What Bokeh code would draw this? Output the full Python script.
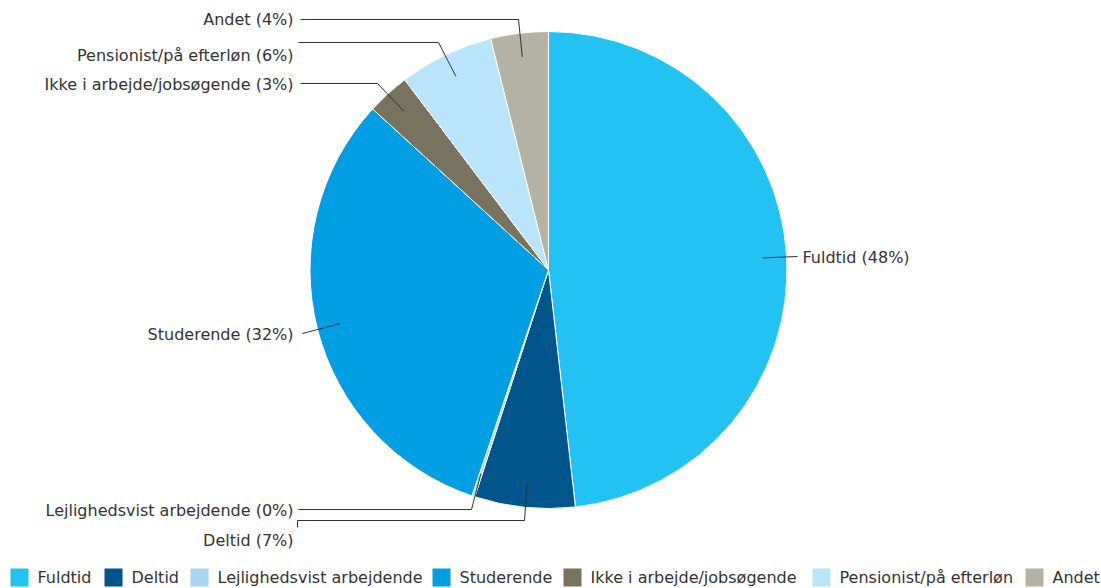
import math
from bokeh.plotting import figure
from bokeh.models import Range1d, ColumnDataSource
from bokeh.core.properties import value
from bokeh.embed import file_html
from bokeh.resources import INLINE

# ---- data ----
categories = ["Fuldtid", "Deltid", "Lejlighedsvist arbejdende", "Studerende",
              "Ikke i arbejde/jobsøgende", "Pensionist/på efterløn", "Andet"]
shares = [48.2, 6.8, 0.2, 31.6, 2.9, 6.4, 3.9]
colors = ["#22C3F3", "#00558C", "#A8D5F5", "#009FE3", "#77735F", "#B9E4FA", "#B3B2A5"]

# ---- layout (screen pixels) ----
W, H = 1101, 588
CX, CY, R = 548, 269.5, 238.5
FONT = value("DejaVu Sans")
FS = "16px"
TXT = "#333333"
LINE = "#333333"

# label anchor (x, y, align) and connector path after slice start point
label_pos = {
    "Fuldtid": (802, 257, "left", [(797, 256)]),
    "Deltid": (293, 540, "right", [(524, 520), (297, 520), (297, 527)]),
    "Lejlighedsvist arbejdende": (293, 510, "right", [(471, 509), (298, 509)]),
    "Studerende": (293, 334, "right", [(302, 333)]),
    "Ikke i arbejde/jobsøgende": (293, 84, "right", [(377, 83), (300, 83)]),
    "Pensionist/på efterløn": (293, 55, "right", [(438, 42), (298, 42)]),
    "Andet": (293, 19, "right", [(518, 19), (300, 19)]),
}
legend_sq_x = [10, 104, 190, 432, 563, 812, 1025]
LEG_Y = 577

p = figure(width=W, height=H, output_backend="svg", toolbar_location=None,
           x_range=Range1d(0, W), y_range=Range1d(-H, 0),
           min_border=0, outline_line_color=None)
p.axis.visible = False
p.grid.visible = False
p.background_fill_color = "white"
p.border_fill_color = "white"

total = sum(shares)
starts, ends, mids = [], [], []
cum = 0.0
for s in shares:
    a0 = math.pi / 2 - 2 * math.pi * cum / total
    cum += s
    a1 = math.pi / 2 - 2 * math.pi * cum / total
    starts.append(a0)
    ends.append(a1)
    mids.append((a0 + a1) / 2)

src = ColumnDataSource(dict(x=[CX] * len(shares), y=[-CY] * len(shares),
                            start=starts, end=ends, color=colors))
p.wedge(x="x", y="y", radius=R, start_angle="start", end_angle="end",
        direction="clock", fill_color="color", line_color="white",
        line_width=1, source=src)

# connectors and labels
xs, ys = [], []
lx, ly, lt, la = [], [], [], []
for cat, s, m in zip(categories, shares, mids):
    x0 = CX + 0.9 * R * math.cos(m)
    y0 = CY - 0.9 * R * math.sin(m)
    tx, ty, align, path = label_pos[cat]
    xs.append([x0] + [pt[0] for pt in path])
    ys.append([-y0] + [-pt[1] for pt in path])
    lx.append(tx)
    ly.append(-ty)
    lt.append(f"{cat} ({s:.0f}%)")
    la.append(align)

p.multi_line(xs=xs, ys=ys, line_color=LINE, line_width=1)
p.text(x=lx, y=ly, text=lt, text_align=la, text_baseline="middle",
       text_font=FONT, text_font_size=FS, text_color=TXT)

# legend
sq = 18
p.rect(x=[x + sq / 2 for x in legend_sq_x], y=[-LEG_Y] * len(categories),
       width=sq, height=sq, fill_color=colors, line_color=None)
p.text(x=[x + sq + 9 for x in legend_sq_x], y=[-LEG_Y] * len(categories),
       text=categories, text_align="left", text_baseline="middle",
       text_font=FONT, text_font_size=FS, text_color=TXT)

open("out.html", "w").write(file_html(p, INLINE))
